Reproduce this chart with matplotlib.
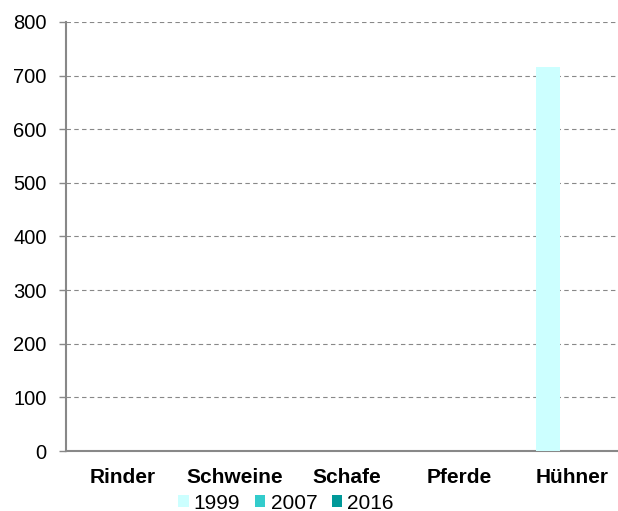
import numpy as np
import matplotlib
matplotlib.use("Agg")
import matplotlib.pyplot as plt
from matplotlib.patches import Patch

plt.rcParams['font.family'] = ['Liberation Sans', 'DejaVu Sans']

# --- DATEN ---
kategorien = ["Rinder", "Schweine", "Schafe", "Pferde", "Hühner"]
jahre = ["1999", "2007", "2016"]
werte_1999 = [0, 0, 0, 0, 716]
werte_2007 = [0, 0, 0, 0, 0]
werte_2016 = [0, 0, 0, 0, 0]
farben = ["#CCFFFF", "#33CCCC", "#009999"]
y_ticks = [0, 100, 200, 300, 400, 500, 600, 700, 800]

fig = plt.figure(figsize=(6.18, 5.11), dpi=100)
ax = fig.add_axes([66 / 618, 1 - 451 / 511, 562 / 618, 429 / 511])

x = np.arange(len(kategorien))
breite = 0.215
for i, (serie, farbe) in enumerate(zip([werte_1999, werte_2007, werte_2016], farben)):
    ax.bar(x + (i - 1) * breite, serie, breite, color=farbe, zorder=3)

ax.set_xlim(-0.5, len(kategorien) - 0.5)
ax.set_ylim(0, 800)
ax.set_yticks(y_ticks)
ax.set_xticks(x)
ax.set_xticklabels(kategorien, fontsize=15, fontweight='bold')
ax.tick_params(axis='y', labelsize=14.5, length=5, color='#888888', width=1, pad=9)
ax.tick_params(axis='x', length=0, pad=12)

ax.yaxis.grid(True, linestyle=(0, (4, 3)), color='#888888', linewidth=0.8, zorder=0)
for s in ['top', 'right']:
    ax.spines[s].set_visible(False)
for s in ['left', 'bottom']:
    ax.spines[s].set_color('#888888')
    ax.spines[s].set_linewidth(1.5)

handles = [Patch(facecolor=f, edgecolor='none') for f in farben]
fig.legend(handles, jahre, loc='center', bbox_to_anchor=(286 / 618, 1 - 503 / 511),
           ncol=3, frameon=False, fontsize=15, handlelength=0.5, handleheight=0.5,
           handletextpad=0.25, columnspacing=0.7, borderaxespad=0, borderpad=0)

fig.savefig("out.png", dpi=100)
